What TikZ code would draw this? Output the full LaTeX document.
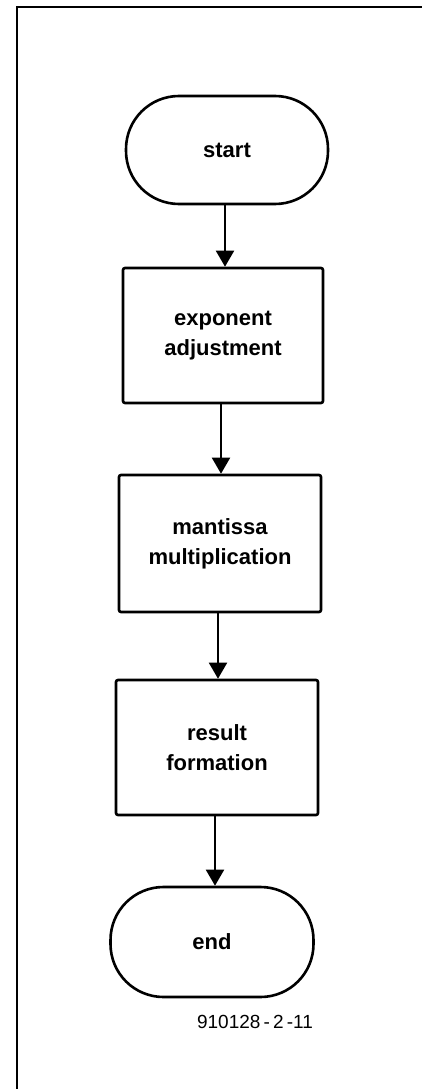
\documentclass[tikz,border=0pt]{standalone}
\usepackage{fontspec}
\setmainfont{Liberation Sans}
\usetikzlibrary{arrows.meta}
\begin{document}
\begin{tikzpicture}[x=1pt,y=-1pt,
  every node/.style={font=\fontsize{22}{30}\selectfont\bfseries, align=center, inner sep=0pt},
  procbox/.style={draw, line width=2.6pt, rounded corners=2pt},
  terminal/.style={draw, line width=2.6pt, rounded corners=53pt},
  flow/.style={line width=2pt, -{Triangle[width=18pt,length=16pt]}},
  framepen/.style={line width=1.8pt}]
\useasboundingbox (0,0) rectangle (422,1089);
% frame
\coordinate (fbl) at (17,1089);
\coordinate (ftl) at (17,7);
\coordinate (ftr) at (422,7);
\draw[framepen] (fbl) -- (ftl) -- (ftr);
% nodes
\node[terminal, minimum width=202pt, minimum height=108pt] (start) at (227,150) {start};
\node[procbox, minimum width=200pt, minimum height=135pt] (exp) at (223,335.5) {exponent\\adjustment};
\node[procbox, minimum width=202pt, minimum height=137pt] (man) at (220,543.5) {mantissa\\multiplication};
\node[procbox, minimum width=202pt, minimum height=135pt] (res) at (217,747.5) {result\\formation};
\node[terminal, minimum width=203pt, minimum height=110pt] (end) at (212,942) {end};
\node[font=\fontsize{19}{22}\selectfont] (lbl) at (255,1022) {910128\,-\,2\,-11};
% connectors
\draw[flow] (start.south) ++(-2,0) coordinate (s1) -- (s1 |- exp.north);
\draw[flow] (exp.south) ++(-2,0) coordinate (s2) -- (s2 |- man.north);
\draw[flow] (man.south) ++(-2,0) coordinate (s3) -- (s3 |- res.north);
\draw[flow] (res.south) ++(-2,0) coordinate (s4) -- (s4 |- end.north);
\end{tikzpicture}
\end{document}
